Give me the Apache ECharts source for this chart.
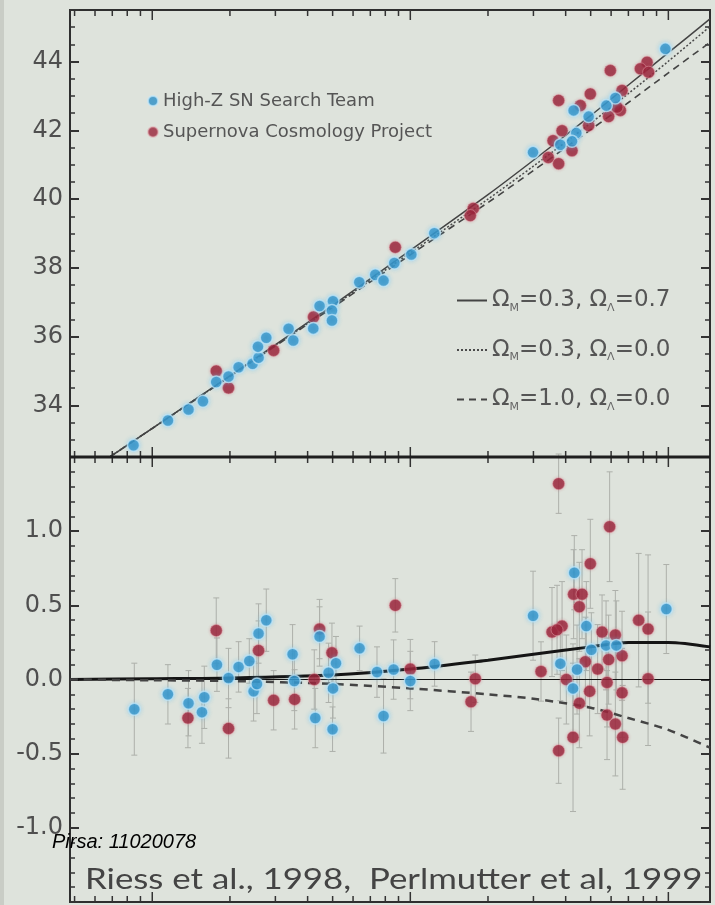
<!DOCTYPE html>
<html>
<head>
<meta charset="utf-8">
<script src="https://cdn.jsdelivr.net/npm/echarts@6/dist/echarts.min.js"></script>
<style>
  html, body { margin: 0; padding: 0; background: #dee3dc; }
  #main { width: 715px; height: 905px; }
</style>
</head>
<body>
<div id="main"></div>
<script>
// 上图：距离模数 vs 红移
var topBlueZ = [0.00846, 0.0115, 0.01382, 0.01572, 0.0177, 0.01975, 0.02161, 0.02447, 0.02582, 0.02568, 0.02766, 0.03375, 0.03519, 0.04207, 0.04451, 0.05016, 0.0497, 0.0497, 0.06343, 0.07315, 0.07875, 0.0867, 0.1009, 0.1239, 0.9736, 0.6231, 0.575, 0.491, 0.4294, 0.4398, 0.3814, 0.4233, 0.2989];
var topBlueMu = [32.84, 33.56, 33.88, 34.12, 34.68, 34.84, 35.11, 35.21, 35.39, 35.71, 35.97, 36.23, 35.89, 36.24, 36.89, 37.03, 36.76, 36.47, 37.58, 37.8, 37.63, 38.14, 38.39, 39.01, 44.37, 42.94, 42.72, 42.4, 42.58, 41.92, 41.58, 41.68, 41.36];
var topRedZ = [0.0177, 0.01975, 0.02954, 0.04218, 0.08746, 0.1754, 0.1708, 0.5959, 0.8269, 0.7791, 0.8386, 0.4984, 0.3757, 0.6615, 0.6516, 0.5869, 0.491, 0.3873, 0.3573, 0.4233, 0.3757, 0.4559, 0.6327, 0.3426];
var topRedMu = [35.0, 34.51, 35.6, 36.57, 38.6, 39.73, 39.52, 43.74, 43.98, 43.79, 43.69, 43.06, 42.87, 43.16, 42.58, 42.4, 42.14, 41.99, 41.7, 41.41, 41.03, 42.72, 42.67, 41.21];

// 下图：残差
var resBlueZ = [0.00852, 0.0115, 0.01382, 0.01591, 0.01558, 0.01781, 0.01975, 0.02161, 0.02377, 0.02582, 0.02766, 0.0247, 0.02545, 0.03498, 0.03552, 0.04451, 0.05152, 0.04823, 0.05016, 0.04283, 0.04997, 0.06361, 0.07428, 0.08615, 0.1, 0.1242, 0.07875, 0.432, 0.299, 0.982, 0.481, 0.503, 0.5735, 0.6286, 0.3814, 0.4427, 0.4271];
var resBlueDm = [-0.2, -0.1, -0.16, -0.12, -0.22, 0.1, 0.01, 0.085, 0.125, 0.31, 0.4, -0.08, -0.03, 0.17, -0.01, 0.29, 0.11, 0.045, -0.06, -0.26, -0.335, 0.21, 0.05, 0.067, -0.01, 0.105, -0.246, 0.72, 0.43, 0.475, 0.36, 0.2, 0.23, 0.23, 0.107, 0.067, -0.06];
var resBlueErr = [0.31, 0.2, 0.22, 0.21, 0.21, 0.18, 0.2, 0.17, 0.15, 0.2, 0.21, 0.2, 0.2, 0.2, 0.2, 0.2, 0.18, 0.2, 0.2, 0.2, 0.15, 0.15, 0.17, 0.2, 0.2, 0.15, 0.25, 0.25, 0.3, 0.3, 0.3, 0.25, 0.3, 0.3, 0.25, 0.3, 0.3];
var resRedZ = [0.01375, 0.0177, 0.01975, 0.02582, 0.02954, 0.03562, 0.04451, 0.04244, 0.0497, 0.1, 0.08746, 0.1786, 0.1719, 0.3757, 0.5922, 0.4984, 0.4294, 0.4629, 0.4519, 0.7672, 0.8344, 0.3541, 0.3873, 0.3704, 0.5534, 0.6231, 0.6615, 0.5869, 0.5321, 0.321, 0.4024, 0.4769, 0.4954, 0.5786, 0.6615, 0.8344, 0.4519, 0.5786, 0.6231, 0.4271, 0.6652, 0.3757];
var resRedDm = [-0.26, 0.33, -0.33, 0.195, -0.14, -0.134, 0.34, 0.0, 0.18, 0.07, 0.5, 0.005, -0.15, 1.32, 1.03, 0.78, 0.575, 0.575, 0.49, 0.4, 0.34, 0.32, 0.36, 0.335, 0.32, 0.3, 0.16, 0.134, 0.07, 0.054, 0.0, 0.12, -0.08, -0.02, -0.09, 0.005, -0.16, -0.24, -0.3, -0.39, -0.39, -0.48];
var resRedErr = [0.2, 0.22, 0.2, 0.2, 0.2, 0.2, 0.2, 0.2, 0.2, 0.2, 0.18, 0.16, 0.2, 0.2, 0.37, 0.3, 0.3, 0.3, 0.3, 0.45, 0.5, 0.3, 0.3, 0.3, 0.25, 0.3, 0.3, 0.3, 0.3, 0.2, 0.3, 0.3, 0.3, 0.3, 0.3, 0.45, 0.3, 0.3, 0.35, 0.5, 0.35, 0.22];

// 模型曲线
var modelZ = [0.0048, 0.01, 0.02, 0.05, 0.1, 0.2, 0.3, 0.5, 0.7, 1.0, 1.45];
var muLambda = [31.73, 33.33, 34.86, 36.91, 38.51, 40.13, 41.13, 42.43, 43.32, 44.26, 45.24];
var muOpen = [31.73, 33.33, 34.85, 36.88, 38.44, 40.0, 40.96, 42.21, 43.07, 44.01, 45.02];
var muFlat = [31.73, 33.33, 34.84, 36.85, 38.38, 39.9, 40.83, 42.02, 42.81, 43.67, 44.56];
var dmLambda = [0, 0.005, 0.01, 0.03, 0.07, 0.13, 0.17, 0.22, 0.25, 0.25, 0.22];
var dmOpen = [0, 0, 0, 0, 0, 0, 0, 0, 0, 0, 0];
var dmFlat = [0, -0.005, -0.01, -0.03, -0.06, -0.1, -0.13, -0.19, -0.26, -0.34, -0.46];

var modelNames = ['ΩM=0.3, ΩΛ=0.7', 'ΩM=0.3, ΩΛ=0.0', 'ΩM=1.0, ΩΛ=0.0'];
var teamNames = ['High-Z SN Search Team', 'Supernova Cosmology Project'];

// x轴刻度（对数）
var majorTickZ = [0.01, 0.1, 1];
var minorTickZ = [0.005, 0.006, 0.007, 0.008, 0.009, 0.02, 0.03, 0.04, 0.05, 0.06, 0.07, 0.08, 0.09, 0.2, 0.3, 0.4, 0.5, 0.6, 0.7, 0.8, 0.9];

var blue = '#2a8dc6', red = '#972238';
var labelFont = 'DejaVu Sans';

function pairs(xs, ys) {
    return xs.map(function (x, i) { return [x, ys[i]]; });
}
function errData(xs, ys, es) {
    return xs.map(function (x, i) { return [x, ys[i] - es[i], ys[i] + es[i]]; });
}
var tickData = majorTickZ.map(function (z) { return [z, 10]; })
    .concat(minorTickZ.map(function (z) { return [z, 6]; }));

// 误差棒
function renderErr(params, api) {
    var p1 = api.coord([api.value(0), api.value(2)]);
    var p2 = api.coord([api.value(0), api.value(1)]);
    var st = { stroke: '#adb0aa', lineWidth: 1 };
    return {
        type: 'group',
        children: [
            { type: 'line', shape: { x1: p1[0], y1: p1[1], x2: p2[0], y2: p2[1] }, style: st },
            { type: 'line', shape: { x1: p1[0] - 3, y1: p1[1], x2: p1[0] + 3, y2: p1[1] }, style: st },
            { type: 'line', shape: { x1: p2[0] - 3, y1: p2[1], x2: p2[0] + 3, y2: p2[1] }, style: st }
        ]
    };
}
// 上下边框上的x刻度
function tickRenderer(yMin, yMax) {
    return function (params, api) {
        var z = api.value(0), len = api.value(1);
        var a = api.coord([z, yMax]), b = api.coord([z, yMin]);
        var st = { stroke: '#333', lineWidth: 1.5 };
        return {
            type: 'group',
            children: [
                { type: 'line', shape: { x1: a[0], y1: a[1], x2: a[0], y2: a[1] + len }, style: st },
                { type: 'line', shape: { x1: b[0], y1: b[1], x2: b[0], y2: b[1] - len }, style: st }
            ]
        };
    };
}

function yAxisCfg(grid, pos, min, max, minorSplit, withLabel, fmt) {
    return {
        type: 'value', gridIndex: grid, position: pos, min: min, max: max, splitNumber: 6,
        axisLine: { show: false },
        axisTick: { show: true, inside: true, length: 9, lineStyle: { color: '#333', width: 2 } },
        minorTick: { show: true, splitNumber: minorSplit, length: 5, lineStyle: { color: '#333', width: 1.5 } },
        splitLine: { show: false },
        minorSplitLine: { show: false },
        axisLabel: {
            show: withLabel, margin: 7, fontSize: 24, fontFamily: labelFont, color: '#4f4f4f',
            showMinLabel: false, showMaxLabel: false, formatter: fmt
        }
    };
}
function xAxisCfg(grid) {
    return {
        type: 'log', logBase: 10, gridIndex: grid, min: 0.0048, max: 1.45,
        axisLine: { show: false }, axisTick: { show: false },
        axisLabel: { show: false }, splitLine: { show: false }
    };
}

var scatterBlue = {
    color: blue, borderColor: 'rgba(195,232,250,0.9)', borderWidth: 1.5,
    shadowColor: 'rgba(120,200,240,0.6)', shadowBlur: 4
};
var scatterRed = {
    color: red, borderColor: 'rgba(225,160,170,0.6)', borderWidth: 1,
    shadowColor: 'rgba(200,90,110,0.4)', shadowBlur: 3
};
// 模型线不画点，图例里也不显示点
var noSymbol = { color: 'rgba(0,0,0,0)', borderWidth: 0 };

var chart = echarts.init(document.getElementById('main'));
var option = {
    backgroundColor: '#dee3dc',
    animation: false,
    grid: [
        { left: 70, top: 10, width: 640, height: 447, show: true, borderColor: '#2f2f2f', borderWidth: 2, backgroundColor: 'transparent' },
        { left: 70, top: 457, width: 640, height: 445, show: true, borderColor: '#2f2f2f', borderWidth: 2, backgroundColor: 'transparent' }
    ],
    xAxis: [xAxisCfg(0), xAxisCfg(1)],
    yAxis: [
        yAxisCfg(0, 'left', 32.5, 45.5, 4, true),
        yAxisCfg(0, 'right', 32.5, 45.5, 4, false),
        yAxisCfg(1, 'left', -1.5, 1.5, 5, true, function (v) { return v.toFixed(1); }),
        yAxisCfg(1, 'right', -1.5, 1.5, 5, false)
    ],
    legend: [
        {
            data: teamNames, orient: 'vertical', left: 142, top: 87, itemGap: 13,
            icon: 'circle', itemWidth: 10, itemHeight: 10,
            textStyle: { fontSize: 18, fontFamily: labelFont, color: '#555' }
        },
        {
            data: modelNames, orient: 'vertical', left: 451, top: 284, itemGap: 25,
            itemWidth: 30, itemHeight: 14,
            formatter: function (name) {
                var m = name.match(/ΩM=([\d.]+), ΩΛ=([\d.]+)/);
                return '{t|Ω}{s|M}{t|=' + m[1] + ', Ω}{s|Λ}{t|=' + m[2] + '}';
            },
            textStyle: {
                rich: {
                    t: { fontSize: 23, fontFamily: labelFont, color: '#555', lineHeight: 26 },
                    s: { fontSize: 11, fontFamily: labelFont, color: '#666', lineHeight: 26, verticalAlign: 'bottom' }
                }
            }
        }
    ],
    series: [
        // 上图模型线
        { name: modelNames[1], type: 'line', xAxisIndex: 0, yAxisIndex: 0, data: pairs(modelZ, muOpen), smooth: 0.3, symbol: 'none',
          itemStyle: noSymbol, lineStyle: { color: '#4a4a4a', width: 1.5, type: [2, 2] }, z: 2 },
        { name: modelNames[0], type: 'line', xAxisIndex: 0, yAxisIndex: 0, data: pairs(modelZ, muLambda), smooth: 0.3, symbol: 'none',
          itemStyle: noSymbol, lineStyle: { color: '#444', width: 1.5 }, z: 2 },
        { name: modelNames[2], type: 'line', xAxisIndex: 0, yAxisIndex: 0, data: pairs(modelZ, muFlat), smooth: 0.3, symbol: 'none',
          itemStyle: noSymbol, lineStyle: { color: '#444', width: 1.6, type: [7, 5] }, z: 2 },
        { name: teamNames[1], type: 'scatter', xAxisIndex: 0, yAxisIndex: 0, data: pairs(topRedZ, topRedMu), symbolSize: 12, itemStyle: scatterRed, z: 4 },
        { name: teamNames[0], type: 'scatter', xAxisIndex: 0, yAxisIndex: 0, data: pairs(topBlueZ, topBlueMu), symbolSize: 12, itemStyle: scatterBlue, z: 5 },

        // 下图误差棒
        { type: 'custom', xAxisIndex: 1, yAxisIndex: 2, data: errData(resBlueZ, resBlueDm, resBlueErr), renderItem: renderErr, z: 1, silent: true },
        { type: 'custom', xAxisIndex: 1, yAxisIndex: 2, data: errData(resRedZ, resRedDm, resRedErr), renderItem: renderErr, z: 1, silent: true },
        // 下图模型线
        { name: modelNames[1], type: 'line', xAxisIndex: 1, yAxisIndex: 2, data: pairs(modelZ, dmOpen), symbol: 'none',
          itemStyle: noSymbol, lineStyle: { color: '#111', width: 1.2 }, z: 2 },
        { name: modelNames[0], type: 'line', xAxisIndex: 1, yAxisIndex: 2, data: pairs(modelZ, dmLambda), smooth: 0.3, symbol: 'none',
          itemStyle: noSymbol, lineStyle: { color: '#151515', width: 3 }, z: 2 },
        { name: modelNames[2], type: 'line', xAxisIndex: 1, yAxisIndex: 2, data: pairs(modelZ, dmFlat), smooth: 0.3, symbol: 'none',
          itemStyle: noSymbol, lineStyle: { color: '#444', width: 2.5, type: [8, 6] }, z: 2 },
        { name: teamNames[1], type: 'scatter', xAxisIndex: 1, yAxisIndex: 2, data: pairs(resRedZ, resRedDm), symbolSize: 12, itemStyle: scatterRed, z: 4 },
        { name: teamNames[0], type: 'scatter', xAxisIndex: 1, yAxisIndex: 2, data: pairs(resBlueZ, resBlueDm), symbolSize: 12, itemStyle: scatterBlue, z: 5 },

        // 对数x轴刻度
        { type: 'custom', xAxisIndex: 0, yAxisIndex: 0, data: tickData, renderItem: tickRenderer(32.5, 45.5), z: 6, silent: true },
        { type: 'custom', xAxisIndex: 1, yAxisIndex: 2, data: tickData, renderItem: tickRenderer(-1.5, 1.5), z: 6, silent: true }
    ],
    graphic: [
        { type: 'rect', left: 0, top: 0, shape: { width: 4, height: 905 }, style: { fill: '#c9cdc6' }, silent: true },
        // 两图之间的粗分隔线
        { type: 'rect', x: 70, y: 455.5, shape: { width: 640, height: 3 }, style: { fill: '#1e1e1e' }, silent: true, z: 9 },
        { type: 'text', x: 85, y: 880, scaleX: 1.2, z: 10,
          style: { text: 'Riess et al., 1998,  Perlmutter et al, 1999', fontSize: 29, fontFamily: 'Lato', fill: '#444', verticalAlign: 'middle' } },
        { type: 'text', x: 52, y: 842, z: 11,
          style: { text: 'Pirsa: 11020078', fontSize: 20, fontStyle: 'italic', fontFamily: 'Liberation Sans', fill: '#000', verticalAlign: 'middle' } }
    ]
};
chart.setOption(option);
</script>
</body>
</html>
